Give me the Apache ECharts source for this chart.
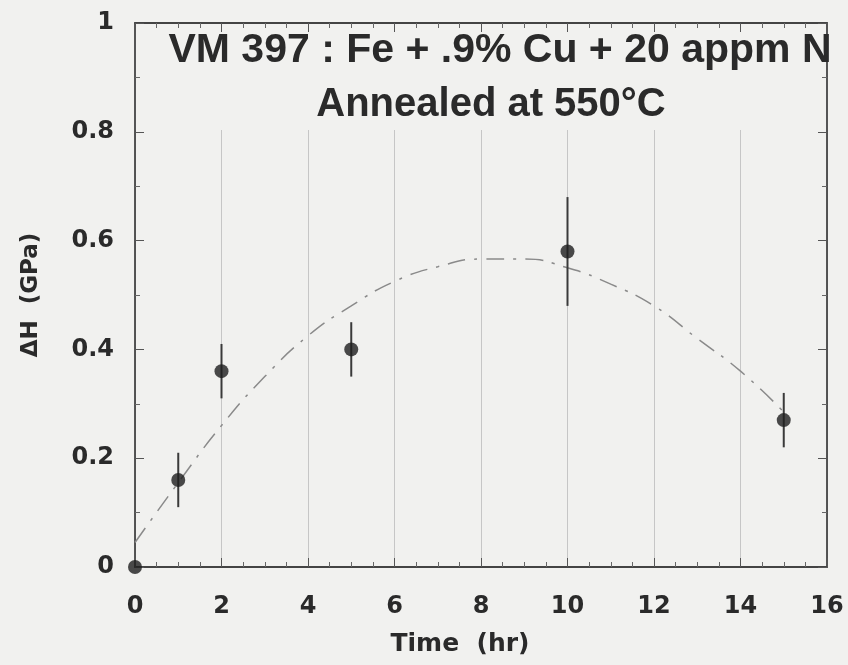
<!DOCTYPE html>
<html><head><meta charset="utf-8">
<script src="https://cdn.jsdelivr.net/npm/echarts@6/dist/echarts.min.js"></script>
<style>html,body{margin:0;padding:0;background:#f1f1ef}#c{width:848px;height:665px}</style>
</head><body><div id="c"></div>
<script>
var timeHr = [0, 1, 2, 5, 10, 15];
var deltaH = [0, 0.16, 0.36, 0.40, 0.58, 0.27];
var errH = [0, 0.05, 0.05, 0.05, 0.10, 0.05];
var fitX = [0, 1, 2, 3, 4, 5, 6, 7, 8, 9, 10, 11, 12, 13, 14, 15];
var fitY = [0.045, 0.155, 0.26, 0.35, 0.425, 0.48, 0.525, 0.552, 0.566, 0.566, 0.55, 0.52, 0.48, 0.42, 0.36, 0.285];
var titleLines = ['VM 397 : Fe + .9% Cu + 20 appm N', 'Annealed at 550\u00B0C'];

var ink = '#2a2a2a';
var titleFont = '"Liberation Sans", Arial, sans-serif';
var labelFont = '"DejaVu Sans", sans-serif';
var chart = echarts.init(document.getElementById('c'));
var pts = timeHr.map(function (t, i) { return [t, deltaH[i]]; });
var errs = timeHr.map(function (t, i) { return [t, deltaH[i] - errH[i], deltaH[i] + errH[i]]; });
var fit = fitX.map(function (t, i) { return [t, fitY[i]]; });

function frameAxis(extra, minorSplit) {
  return Object.assign({
    type: 'value',
    axisLine: { show: true, onZero: false, lineStyle: { color: '#444', width: 1.8 } },
    axisTick: { show: true, inside: true, length: 9, lineStyle: { color: '#555', width: 1 } },
    minorTick: { show: true, splitNumber: minorSplit, length: 5, lineStyle: { color: '#666' } },
    splitLine: { show: false }
  }, extra);
}

chart.setOption({
  backgroundColor: '#f1f1ef',
  animation: false,
  grid: [
    { left: 135, right: 21, top: 23, bottom: 98 },
    { left: 135, right: 21, top: 130, bottom: 98 }
  ],
  title: [
    { text: titleLines[0], left: 495, top: 25, textAlign: 'center',
      textStyle: { fontFamily: titleFont, fontWeight: 'bold', fontSize: 41, color: ink } },
    { text: titleLines[1], left: 486, top: 80, textAlign: 'center',
      textStyle: { fontFamily: titleFont, fontWeight: 'bold', fontSize: 40, color: ink } }
  ],
  xAxis: [
    frameAxis({
      gridIndex: 0, min: 0, max: 16, interval: 2, position: 'bottom',
      name: 'Time  (hr)', nameLocation: 'middle', nameGap: 65,
      nameTextStyle: { fontFamily: labelFont, fontWeight: 'bold', fontSize: 25, color: ink, padding: [0, 42, 0, 0] },
      axisLabel: { fontFamily: labelFont, fontWeight: 'bold', fontSize: 24, color: ink, margin: 28 }
    }, 4),
    frameAxis({
      gridIndex: 0, min: 0, max: 16, interval: 2, position: 'top',
      axisLabel: { show: false }
    }, 4),
    {
      type: 'value', gridIndex: 1, min: 0, max: 16, interval: 2,
      axisLine: { show: false }, axisTick: { show: false }, axisLabel: { show: false },
      splitLine: { show: true, lineStyle: { color: '#c6c6c6', width: 1 } }
    }
  ],
  yAxis: [
    frameAxis({
      gridIndex: 0, min: 0, max: 1, interval: 0.2, position: 'left',
      name: '\u0394H  (GPa)', nameLocation: 'middle', nameGap: 92,
      nameTextStyle: { fontFamily: labelFont, fontWeight: 'bold', fontSize: 23, color: ink },
      axisLabel: { fontFamily: labelFont, fontWeight: 'bold', fontSize: 24, color: ink, margin: 21 }
    }, 2),
    frameAxis({
      gridIndex: 0, min: 0, max: 1, interval: 0.2, position: 'right',
      axisLabel: { show: false }
    }, 2),
    {
      type: 'value', gridIndex: 1, min: 0, max: 0.8, show: false
    }
  ],
  series: [
    { type: 'line', xAxisIndex: 0, yAxisIndex: 0, data: fit, smooth: true, symbol: 'none', z: 2,
      lineStyle: { color: '#8a8a8a', width: 1.5, type: [18, 9, 3, 9] } },
    { type: 'custom', xAxisIndex: 0, yAxisIndex: 0, data: errs, z: 3, clip: false,
      renderItem: function (params, api) {
        var lo = api.coord([api.value(0), api.value(1)]);
        var hi = api.coord([api.value(0), api.value(2)]);
        return { type: 'line', shape: { x1: lo[0], y1: lo[1], x2: hi[0], y2: hi[1] },
          style: { stroke: '#3a3a3a', lineWidth: 2 } };
      } },
    { type: 'scatter', xAxisIndex: 0, yAxisIndex: 0, data: pts, symbol: 'circle', symbolSize: 14, z: 4, clip: false,
      itemStyle: { color: '#1e1e1e' } }
  ]
});
</script></body></html>
